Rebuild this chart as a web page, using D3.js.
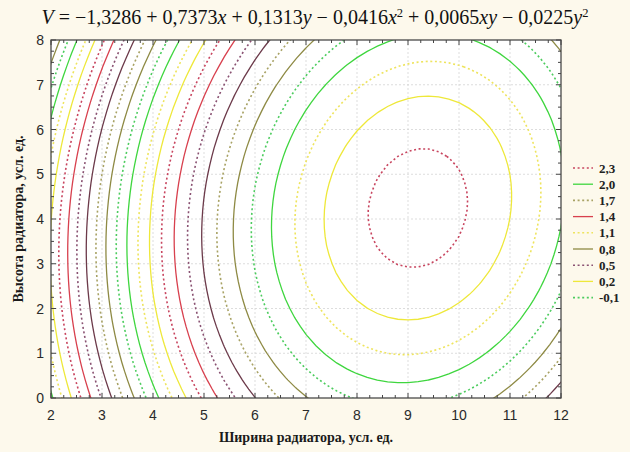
<!DOCTYPE html>
<html><head><meta charset="utf-8">
<script src="https://cdn.jsdelivr.net/npm/d3@7"></script>
<style>body{margin:0;background:#fdf9ec;overflow:hidden}</style>
</head><body>
<svg id="chart" width="630" height="452"></svg>
<script>
// Regression surface V(x, y) coefficients: [1, x, y, x², xy, y²]
const coefficients = [-1.3286, 0.7373, 0.1313, -0.0416, 0.0065, -0.0225];
// Contour levels drawn (step 0.1)
const levels = [2.3, 2.2, 2.1, 2.0, 1.9, 1.8, 1.7, 1.6, 1.5, 1.4, 1.3, 1.2, 1.1, 1.0, 0.9, 0.8, 0.7, 0.6, 0.5, 0.4, 0.3, 0.2, 0.1, 0.0, -0.1, -0.2, -0.3];
// Levels listed in legend
const legendLevels = [2.3, 2.0, 1.7, 1.4, 1.1, 0.8, 0.5, 0.2, -0.1];
const legendLabels = ["2,3", "2,0", "1,7", "1,4", "1,1", "0,8", "0,5", "0,2", "-0,1"];
const xTicks = [2, 3, 4, 5, 6, 7, 8, 9, 10, 11, 12];
const yTicks = [0, 1, 2, 3, 4, 5, 6, 7, 8];
const xDomain = [2, 12];
const yDomain = [0, 8];
const xTitle = "Ширина радиатора, усл. ед.";
const yTitle = "Высота радиатора, усл. ед.";

// style cycle (period 10), starting at the highest level
const styleCycle = [
  {c: "#c8455f", d: "2,2.6"},
  {c: "#eee83a", d: null},
  {c: "#eee45e", d: "2,2.6"},
  {c: "#3fd63f", d: null},
  {c: "#4ccc5e", d: "2,2.6"},
  {c: "#8e8a44", d: null},
  {c: "#a8a264", d: "2,2.6"},
  {c: "#6c3a4a", d: null},
  {c: "#8a5272", d: "2,2.6"},
  {c: "#d8404e", d: null}
];
const styleOf = v => styleCycle[levels.findIndex(l => Math.abs(l - v) < 1e-9) % 10];

const svg = d3.select("#chart");
const M = {l: 51, r: 561, t: 40, b: 398};
const sx = d3.scaleLinear().domain(xDomain).range([M.l, M.r]);
const sy = d3.scaleLinear().domain(yDomain).range([M.b, M.t]);

svg.append("rect").attr("width", 630).attr("height", 452).attr("fill", "#fdf9ec");
svg.append("rect").attr("x", M.l).attr("y", M.t).attr("width", M.r - M.l).attr("height", M.b - M.t).attr("fill", "#ffffff");

// grid
const g = svg.append("g");
g.selectAll(".gx").data(xTicks.slice(1, -1)).join("line")
  .attr("x1", d => sx(d)).attr("x2", d => sx(d)).attr("y1", M.t).attr("y2", M.b)
  .attr("stroke", "#d4d4d4").attr("stroke-width", 0.8).attr("stroke-dasharray", "2,2");
g.selectAll(".gy").data(yTicks.slice(1, -1)).join("line")
  .attr("y1", d => sy(d)).attr("y2", d => sy(d)).attr("x1", M.l).attr("x2", M.r)
  .attr("stroke", "#d4d4d4").attr("stroke-width", 0.8).attr("stroke-dasharray", "2,2");

// grid of V values (extended beyond domain so boundary edges fall outside clip)
const step = 0.2, gx0 = 1.4, gy0 = -0.6;
const nx = Math.round((12.6 - gx0) / step) + 1, ny = Math.round((8.6 - gy0) / step) + 1;
const [a0, a1, a2, a3, a4, a5] = coefficients;
const vals = new Array(nx * ny);
for (let j = 0; j < ny; j++) for (let i = 0; i < nx; i++) {
  const x = gx0 + i * step, y = gy0 + j * step;
  vals[i + j * nx] = a0 + a1 * x + a2 * y + a3 * x * x + a4 * x * y + a5 * y * y;
}
const contours = d3.contours().size([nx, ny]).thresholds(levels)(vals);
const proj = d3.geoTransform({point: function(px, py) {
  this.stream.point(sx(gx0 + (px - 0.5) * step), sy(gy0 + (py - 0.5) * step));
}});
const path = d3.geoPath(proj);

svg.append("clipPath").attr("id", "clip").append("rect")
  .attr("x", M.l).attr("y", M.t).attr("width", M.r - M.l).attr("height", M.b - M.t);
svg.append("g").attr("clip-path", "url(#clip)")
  .selectAll("path").data(contours).join("path")
  .attr("d", path).attr("fill", "none")
  .attr("stroke", d => styleOf(d.value).c)
  .attr("stroke-width", d => styleOf(d.value).d ? 1.6 : 1.3)
  .attr("stroke-dasharray", d => styleOf(d.value).d);

// frame
svg.append("rect").attr("x", M.l).attr("y", M.t).attr("width", M.r - M.l).attr("height", M.b - M.t)
  .attr("fill", "none").attr("stroke", "#4a4a4a").attr("stroke-width", 1.3);

// ticks (inward, major + minor on all sides)
const xMinor = d3.range(xDomain[0], xDomain[1] + 1e-9, 0.25);
const yMinor = d3.range(yDomain[0], yDomain[1] + 1e-9, 0.25);
const tk = svg.append("g").attr("stroke", "#444").attr("stroke-width", 1);
xMinor.forEach(v => {
  const L = Number.isInteger(v) ? 5 : 3;
  tk.append("line").attr("x1", sx(v)).attr("x2", sx(v)).attr("y1", M.b).attr("y2", M.b - L);
  tk.append("line").attr("x1", sx(v)).attr("x2", sx(v)).attr("y1", M.t).attr("y2", M.t + L);
});
yMinor.forEach(v => {
  const L = Number.isInteger(v) ? 5 : 3;
  tk.append("line").attr("y1", sy(v)).attr("y2", sy(v)).attr("x1", M.l).attr("x2", M.l + L);
  tk.append("line").attr("y1", sy(v)).attr("y2", sy(v)).attr("x1", M.r).attr("x2", M.r - L);
});

// tick labels
svg.append("g").selectAll("text").data(xTicks).join("text")
  .attr("x", d => sx(d)).attr("y", 420).attr("text-anchor", "middle")
  .attr("font-family", "Liberation Sans, Arial, sans-serif").attr("font-size", 14).attr("fill", "#2a2a2a")
  .text(d => d);
svg.append("g").selectAll("text").data(yTicks).join("text")
  .attr("x", 44).attr("y", d => sy(d) + 5).attr("text-anchor", "end")
  .attr("font-family", "Liberation Sans, Arial, sans-serif").attr("font-size", 14).attr("fill", "#2a2a2a")
  .text(d => d);

// axis titles
svg.append("text").attr("x", 306).attr("y", 442).attr("text-anchor", "middle")
  .attr("font-family", "Liberation Serif, Times New Roman, serif").attr("font-weight", "bold")
  .attr("font-size", 14).attr("fill", "#1a1a1a").text(xTitle);
svg.append("text").attr("transform", "translate(23,219) rotate(-90)").attr("text-anchor", "middle")
  .attr("font-family", "Liberation Serif, Times New Roman, serif").attr("font-weight", "bold")
  .attr("font-size", 14).attr("fill", "#1a1a1a").text(yTitle);

// title (formula)
const tt = svg.append("text").attr("x", 315).attr("y", 24).attr("text-anchor", "middle")
  .attr("font-family", "Liberation Serif, Times New Roman, serif").attr("font-size", 20).attr("fill", "#111");
const parts = [
  ["V", "i"], [" = −1,3286 + 0,7373", ""], ["x", "i"], [" + 0,1313", ""], ["y", "i"],
  [" − 0,0416", ""], ["x", "i"], ["2", "s"], [" + 0,0065", ""], ["xy", "i"],
  [" − 0,0225", ""], ["y", "i"], ["2", "s"]
];
parts.forEach(([t, k], i) => {
  const s = tt.append("tspan").text(t);
  if (k === "i") s.attr("font-style", "italic");
  if (k === "s") s.attr("font-size", 12.5).attr("dy", -7);
  else if (i > 0 && parts[i - 1][1] === "s") s.attr("dy", 7);
});

// legend
const lg = svg.append("g");
legendLevels.forEach((v, i) => {
  const y = 168 + i * 16.2;
  const st = styleOf(v);
  lg.append("line").attr("x1", 573).attr("x2", 593).attr("y1", y).attr("y2", y)
    .attr("stroke", st.c).attr("stroke-width", st.d ? 1.6 : 1.3).attr("stroke-dasharray", st.d);
  lg.append("text").attr("x", 599).attr("y", y + 4.5)
    .attr("font-family", "Liberation Serif, Times New Roman, serif").attr("font-weight", "bold")
    .attr("font-size", 13).attr("fill", "#222").text(legendLabels[i]);
});
</script>
</body></html>
